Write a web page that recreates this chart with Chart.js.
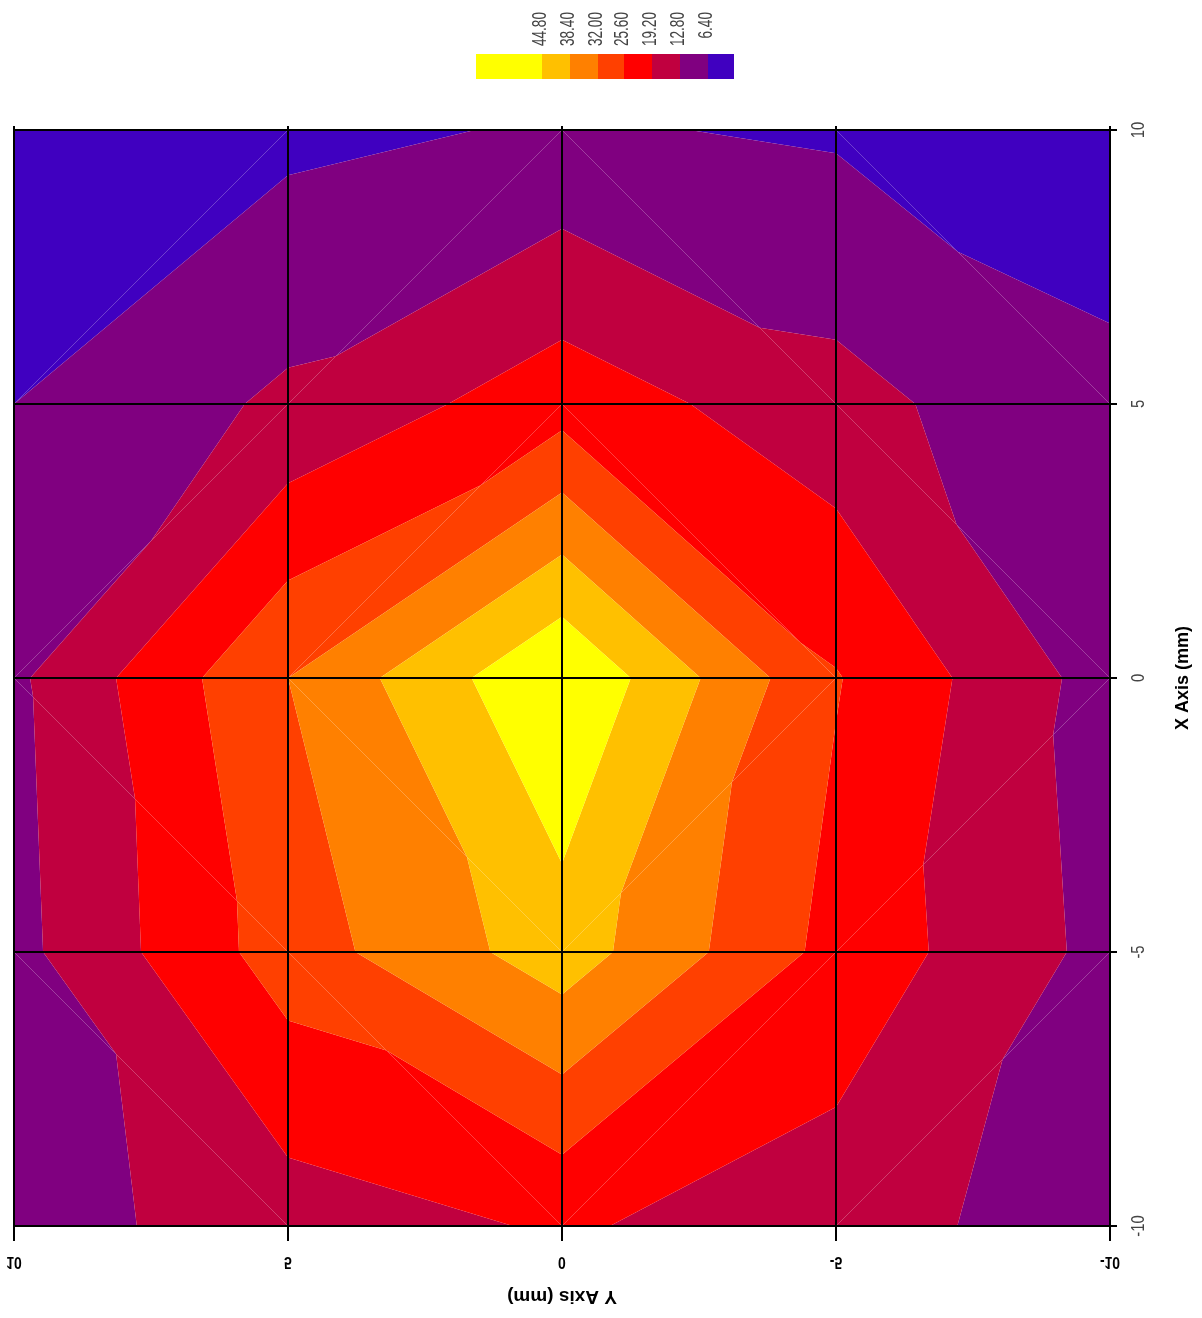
<!DOCTYPE html>
<html>
<head>
<meta charset="utf-8">
<title>Intensity map</title>
<style>
  html, body { margin: 0; padding: 0; background: #ffffff; }
  canvas { display: block; }
</style>
<script src="https://cdn.jsdelivr.net/npm/chart.js@4.4.1/dist/chart.umd.min.js"></script>
</head>
<body>
<canvas id="map" width="1202" height="1318"></canvas>
<script>
// Measurement grid (mm)
const xPositions = [10, 5, 0, -5, -10];   // X Axis, vertical, top to bottom
const yPositions = [10, 5, 0, -5, -10];   // Y Axis, horizontal, left to right

// Intensity along each X row, in yPositions order
const rowX10  = [4.0, 4.9, 7.1, 5.6, 4.0];
const rowX5   = [6.4, 14.0, 22.9, 15.0, 7.4];
const rowX0   = [11.6, 32.0, 51.1, 26.0, 10.0];
const rowXm5  = [10.9, 28.8, 41.8, 23.5, 10.8];
const rowXm10 = [10.2, 16.0, 19.9, 15.9, 8.9];
const intensityRows = [rowX10, rowX5, rowX0, rowXm5, rowXm10];

// Contour levels and band fills (lowest band first)
const levels = [6.4, 12.8, 19.2, 25.6, 32.0, 38.4, 44.8];
const bandColors = ['#4000C0', '#800080', '#C0003F', '#FF0000', '#FF4000', '#FF8000', '#FFC000', '#FFFF00'];
const axisTicks = [10, 5, 0, -5, -10];

const plainFont = '"Liberation Sans", Arial, sans-serif';
const NARROW = 0.82;      // horizontal squeeze for the condensed tick style
const KEY_NARROW = 0.68;  // tighter squeeze for the colour key labels

// Scatter points at the grid nodes (horizontal value = Y, vertical value = X)
const nodePoints = [];
xPositions.forEach((xv, i) => {
  yPositions.forEach((yv, j) => {
    nodePoints.push({ x: yv, y: xv, v: intensityRows[i][j] });
  });
});

// Keep the part of a polygon on one side of a level (linear interpolation along edges)
function clipPolygon(poly, level, keepAbove) {
  const out = [];
  for (let k = 0; k < poly.length; k++) {
    const a = poly[k];
    const b = poly[(k + 1) % poly.length];
    const inA = keepAbove ? a.v >= level : a.v <= level;
    const inB = keepAbove ? b.v >= level : b.v <= level;
    if (inA) out.push(a);
    if (inA !== inB) {
      const t = (level - a.v) / (b.v - a.v);
      out.push({ px: a.px + t * (b.px - a.px), py: a.py + t * (b.py - a.py), v: level });
    }
  }
  return out;
}

// Filled contour bands over a triangulated grid
const contourPlugin = {
  id: 'contourBands',
  beforeDatasetsDraw(chart) {
    const { ctx, chartArea, scales } = chart;
    const sx = scales.x, sy = scales.y;
    const node = (i, j) => ({
      px: sx.getPixelForValue(yPositions[j]),
      py: sy.getPixelForValue(xPositions[i]),
      v: intensityRows[i][j]
    });
    const triangles = [];
    const half = (xPositions.length - 1) / 2;
    for (let i = 0; i < xPositions.length - 1; i++) {
      for (let j = 0; j < yPositions.length - 1; j++) {
        const tl = node(i, j), tr = node(i, j + 1), bl = node(i + 1, j), br = node(i + 1, j + 1);
        // diagonals form a diamond around the centre node
        if ((i < half) === (j < half)) {
          triangles.push([tl, tr, bl], [tr, br, bl]);
        } else {
          triangles.push([tl, tr, br], [tl, br, bl]);
        }
      }
    }
    ctx.save();
    ctx.beginPath();
    ctx.rect(chartArea.left, chartArea.top, chartArea.right - chartArea.left, chartArea.bottom - chartArea.top);
    ctx.clip();
    triangles.forEach(tri => {
      for (let b = 0; b < bandColors.length; b++) {
        let poly = tri;
        if (b > 0) poly = clipPolygon(poly, levels[b - 1], true);
        if (poly.length < 3) continue;
        if (b < levels.length) poly = clipPolygon(poly, levels[b], false);
        if (poly.length < 3) continue;
        ctx.beginPath();
        ctx.moveTo(poly[0].px, poly[0].py);
        for (let k = 1; k < poly.length; k++) ctx.lineTo(poly[k].px, poly[k].py);
        ctx.closePath();
        ctx.fillStyle = bandColors[b];
        ctx.fill();
      }
    });
    ctx.restore();
  }
};

// Axis labels, titles and the colour key
const labelPlugin = {
  id: 'mapLabels',
  afterDraw(chart) {
    const { ctx, chartArea, scales } = chart;
    const sx = scales.x, sy = scales.y;
    ctx.save();

    // small marks above the top edge
    ctx.strokeStyle = '#000';
    ctx.lineWidth = 2;
    axisTicks.forEach(v => {
      const px = Math.round(sx.getPixelForValue(v));
      ctx.beginPath();
      ctx.moveTo(px, chartArea.top);
      ctx.lineTo(px, chartArea.top - 4);
      ctx.stroke();
    });

    // right axis tick labels, reading upward
    ctx.fillStyle = '#444';
    ctx.font = '18px ' + plainFont;
    ctx.textAlign = 'center';
    ctx.textBaseline = 'middle';
    axisTicks.forEach(v => {
      ctx.save();
      ctx.translate(chartArea.right + 29, sy.getPixelForValue(v));
      ctx.rotate(-Math.PI / 2);
      ctx.scale(NARROW, 1);
      ctx.fillText(String(v), 0, 0);
      ctx.restore();
    });

    // right axis title
    ctx.fillStyle = '#000';
    ctx.font = 'bold 18px ' + plainFont;
    ctx.save();
    ctx.translate(chartArea.right + 73, (chartArea.top + chartArea.bottom) / 2);
    ctx.rotate(-Math.PI / 2);
    ctx.fillText('X Axis (mm)', 0, 0);
    ctx.restore();

    // bottom axis tick labels, mirrored vertically
    ctx.font = 'bold 17px ' + plainFont;
    axisTicks.forEach(v => {
      ctx.save();
      ctx.translate(sx.getPixelForValue(v), chartArea.bottom + 36);
      ctx.scale(NARROW, -1);
      ctx.fillText(String(v), 0, 0);
      ctx.restore();
    });

    // bottom axis title, upside down
    ctx.font = 'bold 19px ' + plainFont;
    ctx.save();
    ctx.translate((chartArea.left + chartArea.right) / 2, chartArea.bottom + 70);
    ctx.rotate(Math.PI);
    ctx.fillText('Y Axis (mm)', 0, 0);
    ctx.restore();

    // colour key: highest band on the left
    const keyLeft = 476, keyTop = 54, keyHeight = 25;
    const widths = [66, 28, 28, 26, 28, 28, 28, 26];
    let x = keyLeft;
    const bounds = [];
    for (let k = bandColors.length - 1, n = 0; k >= 0; k--, n++) {
      ctx.fillStyle = bandColors[k];
      ctx.fillRect(x, keyTop, widths[n], keyHeight);
      x += widths[n];
      if (k > 0) bounds.push({ x: x, label: levels[k - 1].toFixed(2) });
    }
    ctx.fillStyle = '#444';
    ctx.font = '20px ' + plainFont;
    ctx.textAlign = 'right';
    ctx.textBaseline = 'middle';
    bounds.forEach(b => {
      ctx.save();
      ctx.translate(b.x - 2, 12);
      ctx.rotate(-Math.PI / 2);
      ctx.scale(KEY_NARROW, 1);
      ctx.fillText(b.label, 0, 0);
      ctx.restore();
    });

    ctx.restore();
  }
};

new Chart(document.getElementById('map'), {
  type: 'scatter',
  data: {
    datasets: [{ data: nodePoints, pointRadius: 0, pointHoverRadius: 0, showLine: false }]
  },
  options: {
    responsive: false,
    animation: false,
    devicePixelRatio: 1,
    events: [],
    layout: { padding: { left: 14, top: 130, right: 0, bottom: 0 } },
    plugins: { legend: { display: false }, tooltip: { enabled: false } },
    scales: {
      x: {
        type: 'linear', position: 'bottom', reverse: true, min: -10, max: 10,
        ticks: { stepSize: 5, display: false },
        grid: { color: '#000', lineWidth: 2, drawTicks: true, tickLength: 15, z: 1 },
        border: { display: true, color: '#000', width: 2, z: 1 },
        afterFit(scale) { scale.height = 92; }
      },
      y: {
        type: 'linear', position: 'right', min: -10, max: 10,
        ticks: { stepSize: 5, display: false },
        grid: { color: '#000', lineWidth: 2, drawTicks: true, tickLength: 7, z: 1 },
        border: { display: true, color: '#000', width: 2, z: 1 },
        afterFit(scale) { scale.width = 92; }
      }
    }
  },
  plugins: [contourPlugin, labelPlugin]
});
</script>
</body>
</html>
